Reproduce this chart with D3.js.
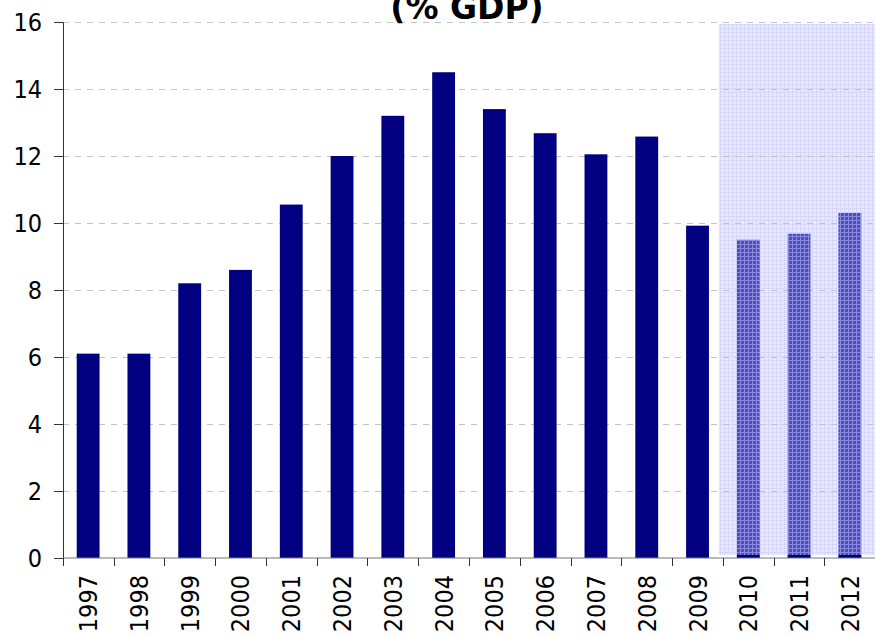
<!DOCTYPE html>
<html>
<head>
<meta charset="utf-8">
<script src="https://cdn.jsdelivr.net/npm/d3@7"></script>
<style>
  body { margin: 0; background: #fff; }
  svg { display: block; }
</style>
</head>
<body>
<div id="chart"></div>
<script>
// values (% GDP)
const years = ["1997","1998","1999","2000","2001","2002","2003","2004",
               "2005","2006","2007","2008","2009","2010","2011","2012"];
const values = [6.1, 6.1, 8.2, 8.6, 10.55, 12.0, 13.2, 14.5,
                13.4, 12.68, 12.05, 12.58, 9.92, 9.5, 9.68, 10.3];
const forecastYears = ["2010","2011","2012"];
const yTicks = [0, 2, 4, 6, 8, 10, 12, 14, 16];

const width = 875, height = 636;
const margin = {top: 22, right: 0, bottom: 78, left: 63};
const labelFont = '"DejaVu Sans Condensed", "DejaVu Sans", sans-serif';

const svg = d3.select('#chart')
  .append('svg')
  .attr('width', width)
  .attr('height', height);

const defs = svg.append('defs');

// light checked background for forecast years
const bgPat = defs.append('pattern')
  .attr('id', 'bgGrid')
  .attr('width', 4).attr('height', 4)
  .attr('patternUnits', 'userSpaceOnUse');
bgPat.append('rect').attr('width', 4).attr('height', 4).attr('fill', '#e8e8ff');
bgPat.append('rect').attr('width', 4).attr('height', 1).attr('fill', '#d6d6fa');
bgPat.append('rect').attr('width', 1).attr('height', 4).attr('fill', '#d6d6fa');

// hatched bars for forecast years
const barPat = defs.append('pattern')
  .attr('id', 'barGrid')
  .attr('width', 4).attr('height', 4)
  .attr('patternUnits', 'userSpaceOnUse');
barPat.append('rect').attr('width', 4).attr('height', 4).attr('fill', '#4e4eb8');
barPat.append('rect').attr('width', 4).attr('height', 1).attr('fill', '#8a8ae0');
barPat.append('rect').attr('width', 1).attr('height', 4).attr('fill', '#8a8ae0');

const x = d3.scaleBand()
  .domain(years)
  .range([margin.left, width - margin.right])
  .paddingInner(0.55)
  .paddingOuter(0.27);

const y = d3.scaleLinear()
  .domain([0, 16])
  .range([height - margin.bottom, margin.top]);

// forecast shading
const fx0 = x(forecastYears[0]) - x.step() * x.paddingInner() / 2 - 4;
svg.append('rect')
  .attr('x', fx0)
  .attr('y', y(16) + 2)
  .attr('width', width - fx0)
  .attr('height', y(0) - y(16) - 5)
  .attr('fill', 'url(#bgGrid)');

// gridlines
svg.append('g')
  .selectAll('line')
  .data(yTicks.filter(d => d > 0))
  .enter()
  .append('line')
  .attr('x1', margin.left)
  .attr('x2', width)
  .attr('y1', d => y(d) + 0.5)
  .attr('y2', d => y(d) + 0.5)
  .attr('stroke', '#c4c4c4')
  .attr('stroke-dasharray', '6,6');

// bars
const bars = svg.append('g');
bars.selectAll('rect')
  .data(years)
  .enter()
  .append('rect')
  .attr('x', d => x(d))
  .attr('width', x.bandwidth())
  .attr('y', (d, i) => y(values[i]))
  .attr('height', (d, i) => y(0) - y(values[i]))
  .attr('fill', d => forecastYears.includes(d) ? 'url(#barGrid)' : '#000080');

// dark base strip on forecast bars
bars.selectAll('.base')
  .data(forecastYears)
  .enter()
  .append('rect')
  .attr('class', 'base')
  .attr('x', d => x(d))
  .attr('width', x.bandwidth())
  .attr('y', y(0) - 3)
  .attr('height', 3)
  .attr('fill', '#000080');

// y axis
const yAxis = svg.append('g')
  .attr('transform', `translate(${margin.left},0)`)
  .call(d3.axisLeft(y).tickValues(yTicks).tickSize(9).tickPadding(12));
yAxis.select('.domain').attr('stroke', '#333');
yAxis.selectAll('.tick line').attr('stroke', '#333');
yAxis.selectAll('text')
  .attr('fill', '#000')
  .style('font-family', labelFont)
  .style('font-size', '25px');

// x axis
const xAxis = svg.append('g')
  .attr('transform', `translate(0,${y(0)})`);
xAxis.append('line')
  .attr('x1', margin.left).attr('x2', width)
  .attr('stroke', '#777');
xAxis.selectAll('.tk')
  .data(years)
  .enter()
  .append('line')
  .attr('x1', d => Math.round(x(d) - x.step() * x.paddingInner() / 2) + 0.5)
  .attr('x2', d => Math.round(x(d) - x.step() * x.paddingInner() / 2) + 0.5)
  .attr('y1', 0).attr('y2', 8)
  .attr('stroke', '#333');
xAxis.selectAll('text')
  .data(years)
  .enter()
  .append('text')
  .attr('transform', d => `translate(${x(d) + x.bandwidth() / 2 + 9},17) rotate(-90)`)
  .attr('text-anchor', 'end')
  .style('font-family', labelFont)
  .style('font-size', '25px')
  .text(d => d);

// title (top part falls outside the frame, as in the source)
svg.append('text')
  .attr('x', 467)
  .attr('y', 19)
  .attr('text-anchor', 'middle')
  .style('font-family', '"DejaVu Sans", Verdana, sans-serif')
  .style('font-weight', 'bold')
  .style('font-size', '33px')
  .text('(% GDP)');
</script>
</body>
</html>
